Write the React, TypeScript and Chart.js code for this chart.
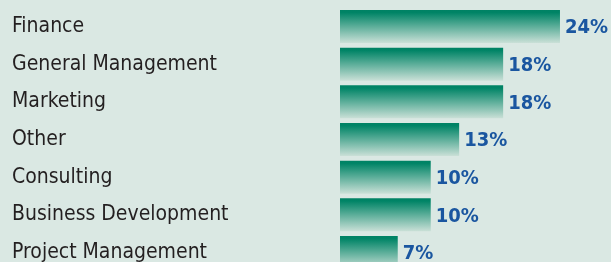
import React, { useEffect, useRef } from "react";
import { Chart, registerables } from "chart.js";

Chart.register(...registerables);

const categories = [
  "Finance",
  "General Management",
  "Marketing",
  "Other",
  "Consulting",
  "Business Development",
  "Project Management",
];
const shares = [24, 17.8, 17.8, 13, 9.9, 9.9, 6.3];
const shareLabels = ["24%", "18%", "18%", "13%", "10%", "10%", "7%"];

const BG = "#dae8e3";
const FONT = "'DejaVu Sans Condensed', 'Liberation Sans Narrow', sans-serif";

const gradientPlugin = {
  id: "barGradient",
  beforeDatasetsDraw(chart: any) {
    const ctx = chart.ctx;
    const meta = chart.getDatasetMeta(0);
    meta.data.forEach((el: any) => {
      const top = el.y - el.height / 2;
      const bottom = el.y + el.height / 2;
      const g = ctx.createLinearGradient(0, top, 0, bottom);
      g.addColorStop(0, "#008264");
      g.addColorStop(0.08, "#008466");
      g.addColorStop(1, "#cae0d7");
      el.options = { ...el.options, backgroundColor: g };
    });
  },
};

const valueLabelPlugin = {
  id: "valueLabels",
  afterDatasetsDraw(chart: any) {
    const ctx = chart.ctx;
    const meta = chart.getDatasetMeta(0);
    ctx.save();
    ctx.fillStyle = "#1a56a0";
    ctx.font = `bold 20px ${FONT}`;
    ctx.textAlign = "left";
    ctx.textBaseline = "middle";
    meta.data.forEach((el: any, i: number) => {
      ctx.fillText(shareLabels[i], el.x + 5, el.y + 1.5);
    });
    ctx.restore();
  },
};

const bgPlugin = {
  id: "bg",
  beforeDraw(chart: any) {
    const ctx = chart.ctx;
    ctx.save();
    ctx.fillStyle = BG;
    ctx.fillRect(0, 0, chart.width, chart.height);
    ctx.restore();
  },
};

export default function App() {
  const ref = useRef<HTMLCanvasElement | null>(null);
  useEffect(() => {
    if (!ref.current) return;
    const chart = new Chart(ref.current, {
      type: "bar",
      data: {
        labels: categories,
        datasets: [
          {
            data: shares,
            backgroundColor: "#008264",
            borderWidth: 0,
            barPercentage: 0.876,
            categoryPercentage: 1,
          },
        ],
      },
      options: {
        indexAxis: "y",
        animation: false,
        responsive: false,
        maintainAspectRatio: false,
        layout: { padding: { left: 12, right: 5.2, top: 7.67, bottom: 8.67 } },
        plugins: {
          legend: { display: false },
          tooltip: { enabled: false },
        },
        scales: {
          x: {
            display: false,
            min: 0,
            max: 29,
          },
          y: {
            grid: { display: false },
            border: { display: false },
            afterFit(axis: any) {
              axis.width = 328;
              axis.paddingTop = 0;
              axis.paddingBottom = 0;
            },
            ticks: {
              crossAlign: "far",
              color: "#231f20",
              padding: 0,
              font: { family: FONT, size: 21 },
            },
          },
        },
      },
      plugins: [bgPlugin, gradientPlugin, valueLabelPlugin],
    });
    return () => chart.destroy();
  }, []);
  return (
    <div
      style={{
        position: "fixed",
        left: 0,
        top: 0,
        width: 611,
        height: 280,
        background: BG,
      }}
    >
      <canvas ref={ref} width={611} height={280} style={{ display: "block" }} />
    </div>
  );
}
